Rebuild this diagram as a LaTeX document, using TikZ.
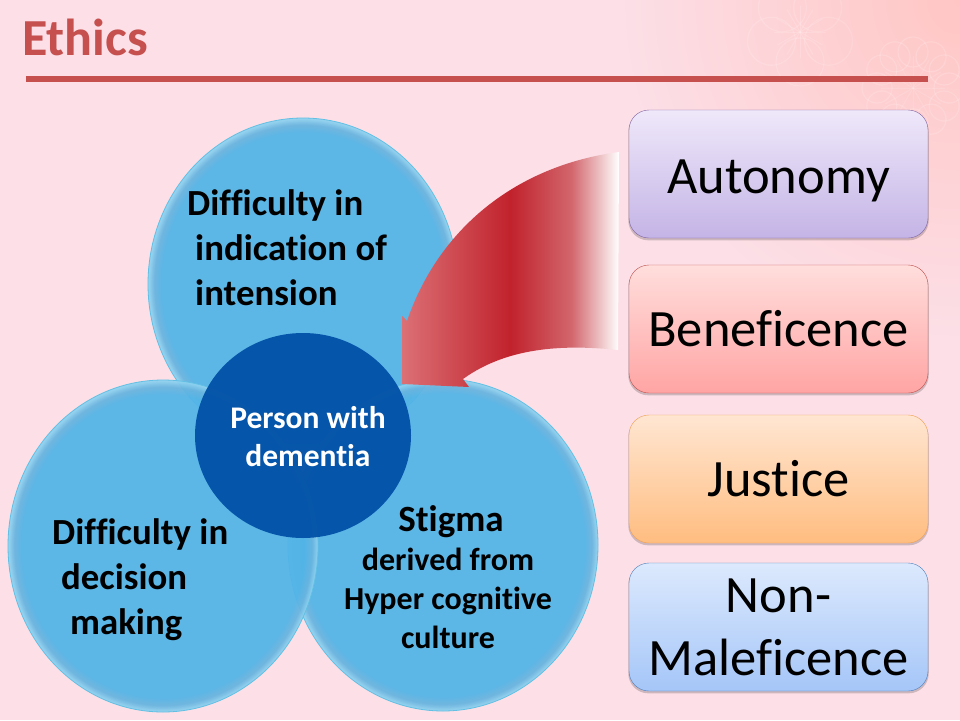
\documentclass[tikz,border=0pt]{standalone}
\usepackage{fontspec}
\setmainfont[Ligatures=NoCommon]{Carlito}
\usepackage{tikz}
\usetikzlibrary{shadows, shapes.geometric}

\definecolor{bubblebase}{HTML}{52B4E6}
\definecolor{bubbleglow}{HTML}{68B4DF}
\definecolor{bubbleedge}{HTML}{8FD2F0}
\definecolor{bubbleline}{HTML}{62C0E4}
\definecolor{coreblue}{HTML}{0252A8}
\definecolor{titlered}{HTML}{C5504E}
\definecolor{pagepink}{HTML}{FCDFE7}
\definecolor{cornerpink}{HTML}{FFC6C4}
\definecolor{arrowred}{HTML}{C1222C}
\definecolor{arrowpale}{HTML}{DB7075}
\definecolor{arrowfade}{HTML}{D2666C}
\definecolor{violettop}{HTML}{EFE8FA}
\definecolor{violetlow}{HTML}{C4B4E6}
\definecolor{violetline}{HTML}{8064A2}
\definecolor{redtop}{HTML}{FFDEDC}
\definecolor{redlow}{HTML}{FFA5A4}
\definecolor{redline}{HTML}{C0504D}
\definecolor{orangetop}{HTML}{FFE6D2}
\definecolor{orangelow}{HTML}{FFBD80}
\definecolor{orangeline}{HTML}{F0A050}
\definecolor{bluetop}{HTML}{DCE9FD}
\definecolor{bluelow}{HTML}{A5C6F8}
\definecolor{blueline}{HTML}{4F81BD}

\pgfdeclareradialshading{bubbleshade}{\pgfpoint{0bp}{0bp}}{
	color(0bp)=(bubblebase); color(22.8bp)=(bubblebase);
	color(24bp)=(bubbleglow); color(24.9bp)=(bubbleedge); color(50bp)=(bubbleedge)}
\pgfdeclarehorizontalshading{arrowshade}{100bp}{
	color(0bp)=(arrowpale); color(25bp)=(arrowpale); color(50bp)=(arrowred);
	color(64bp)=(arrowfade); color(75bp)=(white); color(100bp)=(white)}

\tikzset{
	bubble/.style={ellipse, draw=bubbleline, line width=0.8pt, minimum width=310pt, minimum height=332pt, inner sep=0pt, shading=bubbleshade, fill opacity=0.94},
	bubbletext/.style={font=\bfseries\fontsize{36.8}{45}\selectfont, align=left, inner sep=0pt},
	principle/.style={draw, rounded corners=20pt, minimum width=299pt, minimum height=128pt, inner sep=0pt,
		align=center, font=\fontsize{52.5}{61}\selectfont,
		general shadow={fill=black, opacity=0.18, shadow yshift=-2pt, shadow scale=1.005}}
}

\begin{document}
\begin{tikzpicture}[x=1pt, y=-1pt]
	\useasboundingbox (0,0) rectangle (960,720);
	\fill[pagepink] (0,0) rectangle (960,720);
	\begin{scope}
		\clip (0,0) rectangle (960,720);
		\shade[inner color=cornerpink, outer color=pagepink] (960,0) circle (340);
		% faint flowers in the corner
		\foreach \a in {0,30,...,330} {
			\draw[white, opacity=0.16, line width=1.2pt] (913,88) ++(\a:36) circle (15);
			\draw[white, opacity=0.12, line width=1pt] (913,88) -- ++(\a:32);
			\draw[white, opacity=0.14, line width=1pt] (800,32) -- ++(\a:26);
		}
		\foreach \a in {18,90,...,306} {
			\draw[white, opacity=0.14, line width=1.2pt] (800,32) ++(\a:30) circle (24);
		}
	\end{scope}

	\node[font=\bfseries\fontsize{52}{52}\selectfont, text=titlered, anchor=base west, inner sep=0pt] (title) at (22,55) {Ethics};
	\fill[titlered] (26,76) rectangle (928,82);

	\node[bubble] (intension) at (303,284) {};
	\node[bubble] (stigma)    at (443,545) {};
	\node[bubble] (decision)  at (163,546) {};
	\node[ellipse, fill=coreblue, fill opacity=0.96, minimum width=216pt, minimum height=205pt, inner sep=0pt] (person) at (303,435.5) {};

	\node[bubbletext, anchor=north west] (intensiontext) at (187,189) {Difficulty in\\\hspace{8pt}indication of\\\hspace{8pt}intension};
	\node[bubbletext, anchor=north west] (decisiontext) at (52,518) {Difficulty in\\\hspace{9pt}decision\\\hspace{18pt}making};
	\node[font=\bfseries\fontsize{32}{39}\selectfont, align=center, inner sep=0pt] (stigmatext) at (448,577)
		{{\fontsize{37}{40}\selectfont \hspace*{6pt}Stigma}\\derived from\\Hyper cognitive\\culture};
	\node[font=\bfseries\fontsize{31.5}{38}\selectfont, text=white, align=center, inner sep=0pt] (persontext) at (308,437) {Person with\\dementia};

	\shade[shading=arrowshade]
		(619,152) .. controls (520,165) and (440,225) .. (407,321)
		-- (402,316) -- (402,384) -- (469,387) -- (463,379)
		.. controls (510,345) and (570,345) .. (618,350) -- cycle;

	\node[principle, draw=violetline, top color=violettop, bottom color=violetlow, text height=38pt, text depth=0pt] (autonomy) at (778.5,174) {Autonomy};
	\node[principle, draw=redline, top color=redtop, bottom color=redlow] (beneficence) at (778.5,329) {Beneficence};
	\node[principle, draw=orangeline, top color=orangetop, bottom color=orangelow] (justice) at (778.5,479) {Justice};
	\node[principle, draw=blueline, top color=bluetop, bottom color=bluelow] (nonmaleficence) at (778.5,627) {Non-\\[2pt]Maleficence};
\end{tikzpicture}
\end{document}
